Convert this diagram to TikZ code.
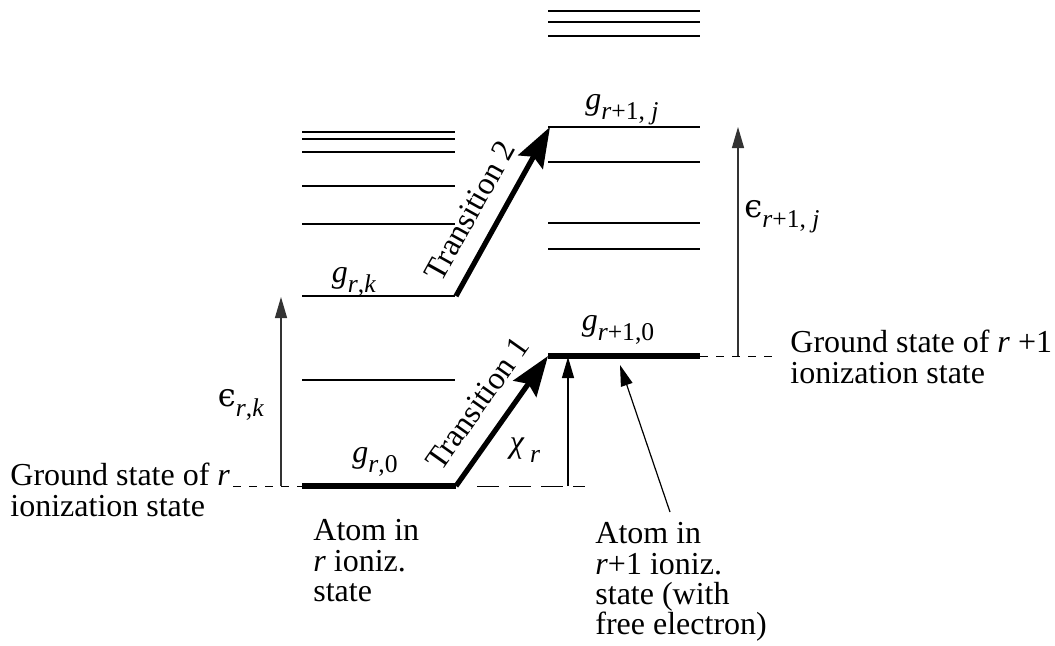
\documentclass[tikz,border=0pt]{standalone}
\usepackage{fontspec}
\setmainfont{Liberation Serif}
\newfontfamily\grk{DejaVu Serif}
\usetikzlibrary{arrows.meta}
\newcommand\subx[1]{\raisebox{-0.32em}{\fontsize{12.8}{12.8}\selectfont #1}}
\tikzset{
  lvl/.style={line width=1pt},
  gnd/.style={line width=2.6pt},
  dsh/.style={line width=0.5pt, dash pattern=on 4pt off 4pt},
  dshlong/.style={line width=0.5pt, dash pattern=on 11pt off 5pt},
  trans/.style={line width=2.6pt, -{Stealth[length=20pt,width=14pt,inset=3pt]}},
  thinarr/.style={line width=0.6pt, -{Triangle[length=10.5pt,width=6pt]}},
  txt/.style={font=\fontsize{16}{15.2}\selectfont, inner sep=0pt, align=left},
  lab/.style={font=\fontsize{16}{15.2}\selectfont, inner sep=0pt},
}
\begin{document}
\begin{tikzpicture}[x=0.5pt,y=-0.5pt]
\useasboundingbox (0,0) rectangle (1055,645);
% left column levels
\foreach \n/\y in {1/132,2/139,3/152,4/186,5/224,6/296,7/380}{
  \coordinate (la\n) at (302,\y);
  \coordinate (lb\n) at (455,\y);
  \draw[lvl] (la\n) -- (lb\n);
}
\coordinate (la0) at (302,486);
\coordinate (lb0) at (456,486);
\draw[gnd] (la0) -- (lb0);
% right column levels
\foreach \n/\y in {1/11,2/22,3/36,4/127,5/162,6/223,7/249}{
  \coordinate (ra\n) at (548,\y);
  \coordinate (rb\n) at (700,\y);
  \draw[lvl] (ra\n) -- (rb\n);
}
\coordinate (ra0) at (548,356);
\coordinate (rb0) at (700,356);
\draw[gnd] (ra0) -- (rb0);
% transitions
\draw[trans] (lb0) -- node[sloped, pos=0.5, above=8.5pt, lab]{Transition 1} (ra0);
\coordinate (t2a) at (456,296);
\coordinate (t2b) at (550,127);
\draw[trans] (t2a) -- node[sloped, pos=0.42, above=8pt, lab]{Transition 2} (t2b);
% dashed ground extensions
\coordinate (dl) at (233,486);
\draw[dsh] (dl) -- (la0);
\coordinate (dr) at (778,356);
\draw[dsh] (rb0) -- (dr);
\coordinate (ca) at (477,486);
\coordinate (cb) at (585,486);
\draw[dshlong] (ca) -- (cb);
% energy arrows
\coordinate (e1a) at (281,486);
\coordinate (e1b) at (281,297);
\draw[thinarr, black!80] (e1a) -- (e1b);
\coordinate (e2a) at (738,356);
\coordinate (e2b) at (738,127);
\draw[thinarr, black!80] (e2a) -- (e2b);
\coordinate (xa) at (568,486);
\coordinate (xb) at (568,357);
\draw[thinarr] (xa) -- (xb);
\coordinate (pa) at (670,512);
\coordinate (pb) at (620,365);
\draw[thinarr] (pa) -- (pb);
% level labels
\node[lab] (g0) at (375,462) {\textit{g}\subx{\textit{r},0}};
\node[lab] (gk) at (354,282) {\textit{g}\subx{\textit{r},\textit{k}}};
\node[lab] (g10) at (618,330) {\textit{g}\subx{\textit{r}+1,0}};
\node[lab] (g1j) at (622,110) {\textit{g}\subx{\textit{r}+1, \textit{j}}};
\node[lab] (erk) at (241,405) {{\grk ϵ}\subx{\textit{r},\textit{k}}};
\node[lab] (er1j) at (782,217) {{\grk ϵ}\subx{\textit{r}+1, \textit{j}}};
\node[lab] (chi) at (525,450) {\textit{χ}\,\subx{\textit{r}}};
% text blocks
\node[txt, anchor=north west] (gsr) at (10,463) {Ground state of \textit{r}\\ionization state};
\node[txt, anchor=north west] (gsr1) at (790,330) {Ground state of \textit{r} +1\\ionization state};
\node[txt, anchor=north west] (atr) at (313,519) {Atom in\\\textit{r} ioniz.\\state};
\node[txt, anchor=north west] (atr1) at (595,522) {Atom in\\\textit{r}+1 ioniz.\\state (with\\free electron)};
\end{tikzpicture}
\end{document}
